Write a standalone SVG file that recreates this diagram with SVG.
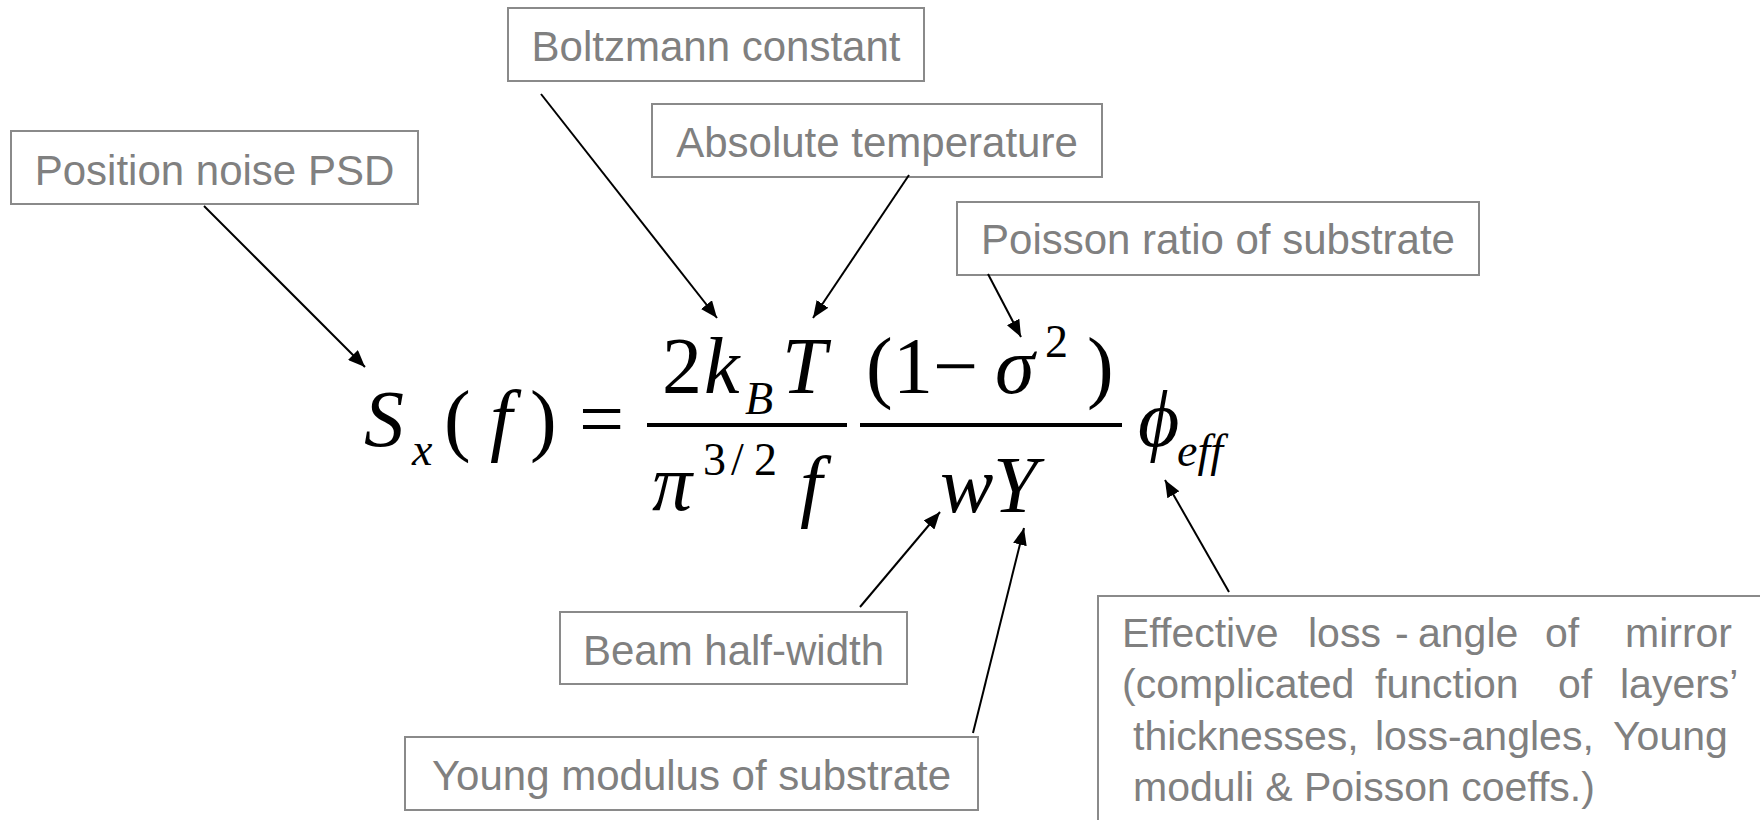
<svg xmlns="http://www.w3.org/2000/svg" width="1760" height="820" viewBox="0 0 1760 820">
<defs>
<style>
.box{fill:#ffffff;stroke:#8a8a8a;stroke-width:2}
.lbl{font-family:"Liberation Sans",Arial,sans-serif;font-size:42px;fill:#808080}
.lbl2{font-family:"Liberation Sans",Arial,sans-serif;font-size:41px;fill:#808080}
.m{font-family:"Liberation Serif","Times New Roman",serif;font-size:80px;fill:#000}
.mi{font-family:"Liberation Serif","Times New Roman",serif;font-size:80px;font-style:italic;fill:#000}
.s{font-family:"Liberation Serif","Times New Roman",serif;font-size:46px;fill:#000}
.si{font-family:"Liberation Serif","Times New Roman",serif;font-size:46px;font-style:italic;fill:#000}
.conn{stroke:#000;stroke-width:2;fill:none;marker-end:url(#ah)}
.bar{stroke:#000;stroke-width:4}
</style>
<marker id="ah" markerUnits="userSpaceOnUse" markerWidth="18" markerHeight="14" refX="17" refY="7" orient="auto">
<path d="M0,0 L17,7 L0,14 z" fill="#000"/>
</marker>
</defs>
<rect width="1760" height="820" fill="#ffffff"/>

<g id="equation">
<text class="mi" x="364" y="446">S</text>
<text class="si" x="412" y="465">x</text>
<text class="m" x="444" y="446">(</text>
<text class="mi" x="490" y="446">f</text>
<text class="m" x="530" y="446">)</text>
<text class="m" x="579" y="446">=</text>
<line class="bar" x1="647" y1="425" x2="847" y2="425"/>
<text class="m" x="662" y="393">2</text>
<text class="mi" x="704" y="393">k</text>
<text class="si" x="745" y="414">B</text>
<text class="mi" x="782" y="393">T</text>
<text class="mi" x="652" y="510">π</text>
<text class="s" x="703" y="475">3</text>
<text class="s" x="731" y="475">/</text>
<text class="s" x="754" y="475">2</text>
<text class="mi" x="800" y="512">f</text>
<line class="bar" x1="860" y1="425" x2="1122" y2="425"/>
<text class="m" x="866" y="393">(</text>
<text class="m" x="893" y="393">1</text>
<text class="m" x="933" y="393">−</text>
<text class="mi" x="995" y="393">σ</text>
<text class="s" x="1045" y="357">2</text>
<text class="m" x="1087" y="393">)</text>
<text class="mi" x="940" y="512">w</text>
<text class="mi" x="993" y="512">Y</text>
<text class="mi" x="1138" y="446">ϕ</text>
<text class="si" x="1177" y="466">eff</text>
</g>

<g id="node-position">
<rect class="box" x="11" y="131" width="407" height="73"/>
<text class="lbl" x="214.5" y="185" text-anchor="middle">Position noise PSD</text>
</g>
<g id="node-boltzmann">
<rect class="box" x="508" y="8" width="416" height="73"/>
<text class="lbl" x="716" y="61" text-anchor="middle">Boltzmann constant</text>
</g>
<g id="node-temperature">
<rect class="box" x="652" y="104" width="450" height="73"/>
<text class="lbl" x="877" y="157" text-anchor="middle">Absolute temperature</text>
</g>
<g id="node-poisson">
<rect class="box" x="957" y="202" width="522" height="73"/>
<text class="lbl" x="1218" y="254" text-anchor="middle">Poisson ratio of substrate</text>
</g>
<g id="node-beam">
<rect class="box" x="560" y="612" width="347" height="72"/>
<text class="lbl" x="733.5" y="665" text-anchor="middle">Beam half-width</text>
</g>
<g id="node-young">
<rect class="box" x="405" y="737" width="573" height="73"/>
<text class="lbl" x="691.5" y="790" text-anchor="middle">Young modulus of substrate</text>
</g>
<g id="node-effective">
<rect class="box" x="1098" y="596" width="700" height="260"/>
<text class="lbl2" y="647"><tspan x="1122">Effective</tspan><tspan x="1308">loss</tspan><tspan x="1395">-</tspan><tspan x="1418">angle</tspan><tspan x="1545">of</tspan><tspan x="1625">mirror</tspan></text>
<text class="lbl2" y="698"><tspan x="1122">(complicated</tspan><tspan x="1375">function</tspan><tspan x="1558">of</tspan><tspan x="1620">layers’</tspan></text>
<text class="lbl2" y="750"><tspan x="1133">thicknesses,</tspan><tspan x="1375">loss-angles,</tspan><tspan x="1613">Young</tspan></text>
<text class="lbl2" x="1133" y="801">moduli &amp; Poisson coeffs.)</text>
</g>

<g id="connectors">
<line class="conn" x1="204" y1="206" x2="365" y2="367"/>
<line class="conn" x1="541" y1="94" x2="717" y2="318"/>
<line class="conn" x1="909" y1="175" x2="813" y2="318"/>
<line class="conn" x1="988" y1="274" x2="1021" y2="337"/>
<line class="conn" x1="860" y1="607" x2="940" y2="512"/>
<line class="conn" x1="973" y1="733" x2="1024" y2="528"/>
<line class="conn" x1="1229" y1="592" x2="1165" y2="480"/>
</g>
</svg>
